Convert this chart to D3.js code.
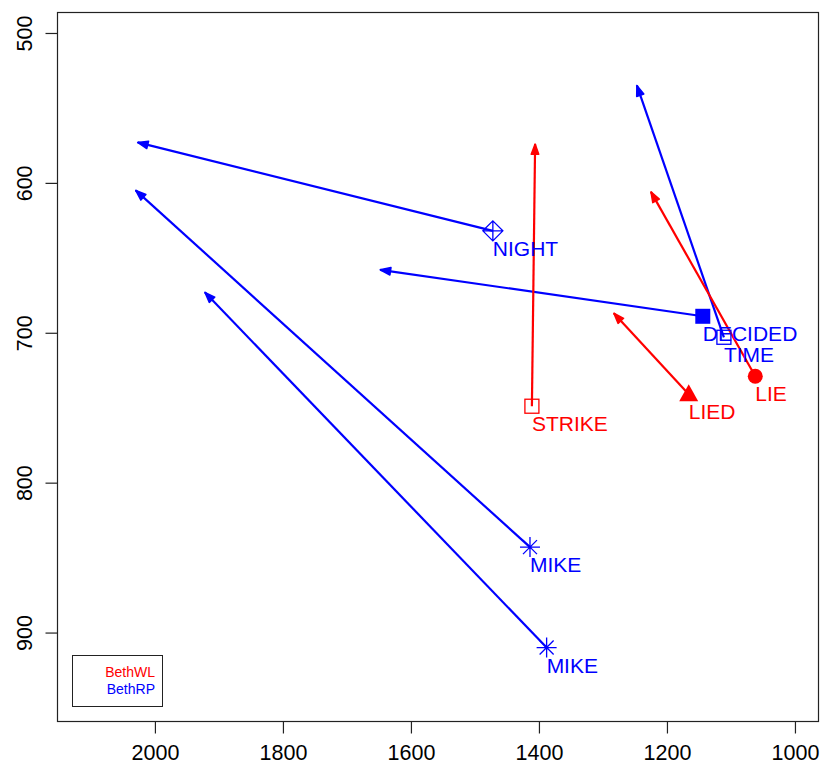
<!DOCTYPE html>
<html>
<head>
<meta charset="utf-8">
<script src="https://cdn.jsdelivr.net/npm/d3@7"></script>
<style>
  body { margin: 0; background: #fff; }
  svg text { font-family: "Liberation Sans", Arial, sans-serif; }
</style>
</head>
<body>
<div id="chart-area"></div>
<script>
// vowel tokens: onset point (symbol) -> offset point (arrow head)
let words   = ["NIGHT", "DECIDED", "TIME", "MIKE", "MIKE", "STRIKE", "LIE", "LIED"];
let speaker = ["BethRP", "BethRP", "BethRP", "BethRP", "BethRP", "BethWL", "BethWL", "BethWL"];
let shapes  = ["diamondPlus", "squareFilled", "square", "asterisk", "asterisk", "square", "circleFilled", "triangleFilled"];
let f2Onset  = [1472, 1144, 1111, 1414, 1388, 1411, 1062, 1166];
let f1Onset  = [632, 689, 703, 843, 910, 749, 729, 741];
let f2Offset = [2027, 1648, 1247, 2030, 1922, 1406, 1225, 1283];
let f1Offset = [573, 658, 535, 605, 673, 574, 606, 687];

let xTicks = [2000, 1800, 1600, 1400, 1200, 1000];
let yTicks = [500, 600, 700, 800, 900];
let legendNames  = ["BethWL", "BethRP"];
let legendColors = ["red", "blue"];

let colorOf = { BethWL: "red", BethRP: "blue" };

let width = 836;
let height = 765;
let plot = { left: 57, right: 818, top: 12, bottom: 721 };

let svg = d3.select("#chart-area")
    .append("svg")
    .attr("width", width)
    .attr("height", height);

let x = d3.scaleLinear()
    .domain([2153, 964])
    .range([plot.left, plot.right]);

let y = d3.scaleLinear()
    .domain([486, 959])
    .range([plot.top, plot.bottom]);

// box
svg.append("rect")
    .attr("x", plot.left + 0.5)
    .attr("y", plot.top + 0.5)
    .attr("width", plot.right - plot.left)
    .attr("height", plot.bottom - plot.top)
    .attr("fill", "none")
    .attr("stroke", "#222")
    .attr("stroke-width", 1.2);

// X axis
let xAxis = d3.axisBottom(x)
    .tickValues(xTicks)
    .tickSize(12)
    .tickFormat(d3.format("d"));

let gx = svg.append("g")
    .attr("class", "x-axis")
    .attr("transform", "translate(0," + (plot.bottom + 0.5) + ")")
    .call(xAxis);
gx.select(".domain").remove();
gx.selectAll("line").attr("stroke", "#222").attr("stroke-width", 1.2);
gx.selectAll("text")
    .attr("font-size", 21.5)
    .attr("fill", "#000")
    .attr("font-family", "Liberation Sans, Arial, sans-serif")
    .attr("y", 38)
    .attr("dy", null);

// Y axis
let yAxis = d3.axisLeft(y)
    .tickValues(yTicks)
    .tickSize(12)
    .tickFormat(d3.format("d"));

let gy = svg.append("g")
    .attr("class", "y-axis")
    .attr("transform", "translate(" + (plot.left + 0.5) + ",0)")
    .call(yAxis);
gy.select(".domain").remove();
gy.selectAll("line").attr("stroke", "#222").attr("stroke-width", 1.2);
gy.selectAll("text")
    .attr("font-size", 21.5)
    .attr("fill", "#000")
    .attr("font-family", "Liberation Sans, Arial, sans-serif")
    .attr("x", null)
    .attr("dy", null)
    .attr("text-anchor", "middle")
    .attr("transform", "translate(-26,0) rotate(-90)");

let tokens = words.map((w, i) => ({
    word: w,
    color: colorOf[speaker[i]],
    shape: shapes[i],
    x0: x(f2Onset[i]), y0: y(f1Onset[i]),
    x1: x(f2Offset[i]), y1: y(f1Offset[i])
}));

let marks = svg.append("g").attr("class", "tokens");

// trajectories with small arrow heads
let headLen = 11, headAng = Math.PI / 9;
tokens.forEach(d => {
    let g = marks.append("g");
    g.append("line")
        .attr("x1", d.x0).attr("y1", d.y0)
        .attr("x2", d.x1).attr("y2", d.y1)
        .attr("stroke", d.color)
        .attr("stroke-width", 2.2);
    let a = Math.atan2(d.y0 - d.y1, d.x0 - d.x1);
    let p = [a - headAng, a + headAng].map(t => [d.x1 + headLen * Math.cos(t), d.y1 + headLen * Math.sin(t)]);
    g.append("path")
        .attr("d", "M" + p[0] + "L" + d.x1 + "," + d.y1 + "L" + p[1] + "Z")
        .attr("fill", d.color)
        .attr("stroke", d.color)
        .attr("stroke-width", 1.5)
        .attr("stroke-linejoin", "round");
});

// onset symbols
tokens.forEach(d => {
    let g = marks.append("g").attr("transform", "translate(" + d.x0 + "," + d.y0 + ")");
    let c = d.color;
    if (d.shape === "square") {
        g.append("rect").attr("x", -7).attr("y", -7).attr("width", 14).attr("height", 14)
            .attr("fill", "none").attr("stroke", c).attr("stroke-width", 1.3);
    } else if (d.shape === "squareFilled") {
        g.append("rect").attr("x", -7.5).attr("y", -7.5).attr("width", 15).attr("height", 15)
            .attr("fill", c);
    } else if (d.shape === "circleFilled") {
        g.append("circle").attr("r", 7.5).attr("fill", c);
    } else if (d.shape === "triangleFilled") {
        g.append("path").attr("d", "M0,-10L9.5,7L-9.5,7Z").attr("fill", c);
    } else if (d.shape === "diamondPlus") {
        g.append("path").attr("d", "M0,-10L10,0L0,10L-10,0ZM0,-10L0,10M-10,0L10,0")
            .attr("fill", "none").attr("stroke", c).attr("stroke-width", 1.3);
    } else if (d.shape === "asterisk") {
        let r = 10, q = 7;
        g.append("path").attr("d", "M-" + r + ",0L" + r + ",0M0,-" + r + "L0," + r +
            "M-" + q + ",-" + q + "L" + q + "," + q + "M-" + q + "," + q + "L" + q + ",-" + q)
            .attr("fill", "none").attr("stroke", c).attr("stroke-width", 1.3);
    }
});

// word labels
marks.selectAll(".word")
    .data(tokens)
    .enter()
    .append("text")
    .attr("class", "word")
    .attr("x", d => d.x0)
    .attr("y", d => d.y0 + 25)
    .attr("font-size", 21)
    .attr("fill", d => d.color)
    .text(d => d.word);

// legend
let legend = svg.append("g").attr("class", "legend");
legend.append("rect")
    .attr("x", 72.5).attr("y", 655.5)
    .attr("width", 90).attr("height", 51)
    .attr("fill", "#fff")
    .attr("stroke", "#222");
legend.selectAll("text")
    .data(legendNames)
    .enter()
    .append("text")
    .attr("x", 155)
    .attr("y", (d, i) => 677 + i * 16.5)
    .attr("text-anchor", "end")
    .attr("font-size", 14)
    .attr("fill", (d, i) => legendColors[i])
    .text(d => d);
</script>
</body>
</html>
